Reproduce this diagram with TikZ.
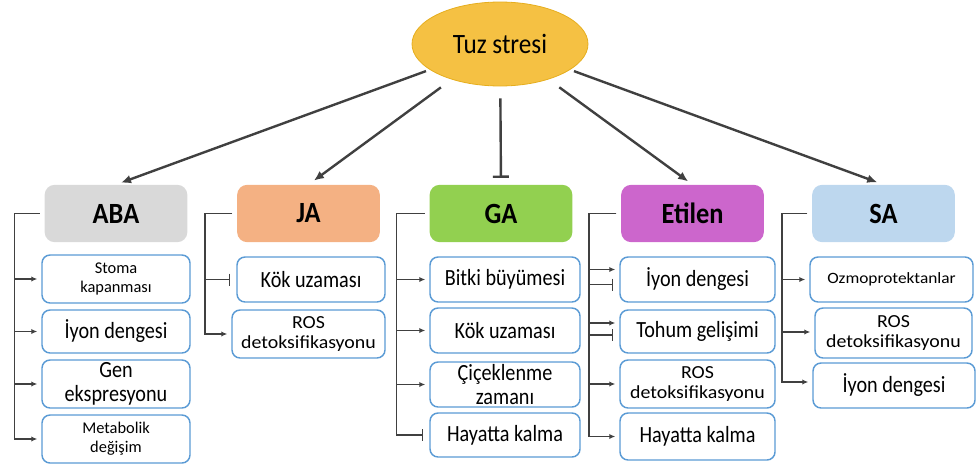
\documentclass[tikz,border=0pt]{standalone}
\usepackage{fontspec}
\setmainfont{Carlito}
\newfontfamily\condfont[FakeStretch=0.87]{Carlito}
\newfontfamily\headfont[FakeStretch=0.9]{Carlito}
\newfontfamily\widefont[FakeStretch=1.08]{Carlito}
\newfontfamily\midfont[FakeStretch=1.1]{Carlito}
\usetikzlibrary{shapes.geometric,arrows.meta,calc}

\definecolor{saltgold}{HTML}{F5C143}
\definecolor{saltgoldedge}{HTML}{E6AE1E}
\definecolor{abagray}{HTML}{D9D9D9}
\definecolor{jaorange}{HTML}{F4B183}
\definecolor{gagreen}{HTML}{92D050}
\definecolor{etpink}{HTML}{CC66CC}
\definecolor{sablue}{HTML}{BDD7EE}
\definecolor{respblue}{HTML}{5B9BD5}
\definecolor{linkgray}{HTML}{404040}

\tikzset{
  hormone/.style={rounded corners=7.5pt, minimum width=107pt, minimum height=43pt,
    inner sep=0pt, font=\headfont\fontsize{22}{24}\selectfont\bfseries},
  respbox/.style n args={2}{draw=respblue, line width=1.1pt, rounded corners=6pt, fill=white,
    align=center, inner sep=0pt, minimum width=#1*0.75pt, minimum height=#2*0.75pt},
  bigtext/.style={font=\condfont\fontsize{17.4}{17.6}\selectfont},
  smalltext/.style={font=\fontsize{12.3}{14.5}\selectfont},
  rostext/.style={font=\widefont\fontsize{13.8}{15.5}\selectfont},
  ozmotext/.style={font=\midfont\fontsize{11.8}{14}\selectfont},
  mainlink/.style={draw=linkgray, line width=1.8pt, -{Latex[length=7.5pt,width=6.5pt]}},
  mainblock/.style={draw=linkgray, line width=1.8pt, -{Bar[width=12pt,line width=1.8pt]}},
  branch/.style={draw=linkgray, line width=1.1pt, -{Latex[length=4.5pt,width=4pt]},
    shorten <=3.5pt, shorten >=3pt},
  branchblock/.style={draw=linkgray, line width=1.1pt, -{Bar[width=9pt,line width=1.1pt]},
    shorten <=3.5pt, shorten >=4.5pt}
}

\begin{document}
\begin{tikzpicture}[x=0.75pt, y=-0.75pt]
\useasboundingbox (0,0) rectangle (976,468);

% root
\node[ellipse, fill=saltgold, draw=saltgoldedge, line width=0.6pt,
      minimum width=132pt, minimum height=63pt, inner sep=0pt,
      font=\headfont\fontsize{21}{23}\selectfont] (ts) at (500,44) {Tuz stresi};

% hormones
\node[hormone, fill=abagray]  (aba) at (116,213.5)   {ABA};
\node[hormone, fill=jaorange] (ja)  at (308.5,213.5) {JA};
\node[hormone, fill=gagreen]  (ga)  at (501,213.5)   {GA};
\node[hormone, fill=etpink]   (et)  at (692.5,213.5) {Etilen};
\node[hormone, fill=sablue]   (sa)  at (883.5,213.5) {SA};

% responses under ABA
\node[respbox={148}{48}, smalltext] (a1) at (116,279)   {Stoma\\kapanması};
\node[respbox={148}{43}, bigtext]   (a2) at (116,331.5) {İyon dengesi};
\node[respbox={148}{48}, bigtext]   (a3) at (116,384)   {Gen\\ekspresyonu};
\node[respbox={148}{48}, smalltext] (a4) at (116,439)   {Metabolik\\değişim};

% responses under JA
\node[respbox={148}{45}, bigtext] (j1) at (311,279.5)   {Kök uzaması};
\node[respbox={153}{48}, rostext] (j2) at (308.5,334)   {ROS\\detoksifikasyonu};

% responses under GA
\node[respbox={150}{45}, bigtext] (g1) at (505,279.5) {Bitki büyümesi};
\node[respbox={150}{45}, bigtext] (g2) at (505,330.5) {Kök uzaması};
\node[respbox={150}{45}, bigtext] (g3) at (505,384.5) {Çiçeklenme\\zamanı};
\node[respbox={150}{44}, bigtext] (g4) at (505,435)   {Hayatta kalma};

% responses under Etilen
\node[respbox={155}{45}, bigtext] (e1) at (697.5,279.5) {İyon dengesi};
\node[respbox={155}{43}, bigtext] (e2) at (697.5,331.5) {Tohum gelişimi};
\node[respbox={155}{48}, rostext] (e3) at (697.5,384)   {ROS\\detoksifikasyonu};
\node[respbox={155}{47}, bigtext] (e4) at (697.5,436.5) {Hayatta kalma};

% responses under SA
\node[respbox={163}{45}, ozmotext] (s1) at (891.5,279.5) {Ozmoprotektanlar};
\node[respbox={157}{50}, rostext] (s2) at (893.5,333)   {ROS\\detoksifikasyonu};
\node[respbox={162}{45}, bigtext] (s3) at (894,385.5)   {İyon dengesi};

% salt stress to hormones
\draw[mainlink, shorten <=3pt,  shorten >=4pt] (ts) -- (aba.north);
\draw[mainlink, shorten <=10pt, shorten >=5pt] (ts) -- (ja.north);
\draw[mainblock, shorten <=9pt, shorten >=5pt] (ts) -- (ga.north);
\draw[mainlink, shorten <=10pt, shorten >=4pt] (ts) -- (et.north);
\draw[mainlink, shorten <=3pt,  shorten >=5pt] (ts) -- (sa.north);

% ABA branches
\draw[branch] (aba.west) -- ++(-30,0) |- (a1.west);
\draw[branch] (aba.west) -- ++(-30,0) |- (a2.west);
\draw[branch] (aba.west) -- ++(-30,0) |- (a3.west);
\draw[branch] (aba.west) -- ++(-30,0) |- (a4.west);

% JA branches
\draw[branchblock] (ja.west) -- ++(-32,0) |- (j1.west);
\draw[branch]      (ja.west) -- ++(-32,0) |- (j2.west);

% GA branches
\draw[branch]      (ga.west) -- ++(-33,0) |- (g1.west);
\draw[branch]      (ga.west) -- ++(-33,0) |- (g2.west);
\draw[branch]      (ga.west) -- ++(-33,0) |- (g3.west);
\draw[branchblock] (ga.west) -- ++(-33,0) |- (g4.west);

% Etilen branches
\draw[branch]      (et.west) -- ++(-32,0) |- ($(e1.west)+(0,-10)$);
\draw[branchblock] (et.west) -- ++(-32,0) |- ($(e1.west)+(0,5)$);
\draw[branch]      (et.west) -- ++(-32,0) |- ($(e2.west)+(0,-8.5)$);
\draw[branchblock] (et.west) -- ++(-32,0) |- ($(e2.west)+(0,3.5)$);
\draw[branch]      (et.west) -- ++(-32,0) |- (e3.west);
\draw[branch]      (et.west) -- ++(-32,0) |- (e4.west);

% SA branches
\draw[branch] (sa.west) -- ++(-30,0) |- (s1.west);
\draw[branch] (sa.west) -- ++(-30,0) |- ($(s2.west)+(0,-1)$);
\draw[branch] (sa.west) -- ++(-30,0) |- ($(s3.west)+(0,-3.5)$);
\end{tikzpicture}
\end{document}
